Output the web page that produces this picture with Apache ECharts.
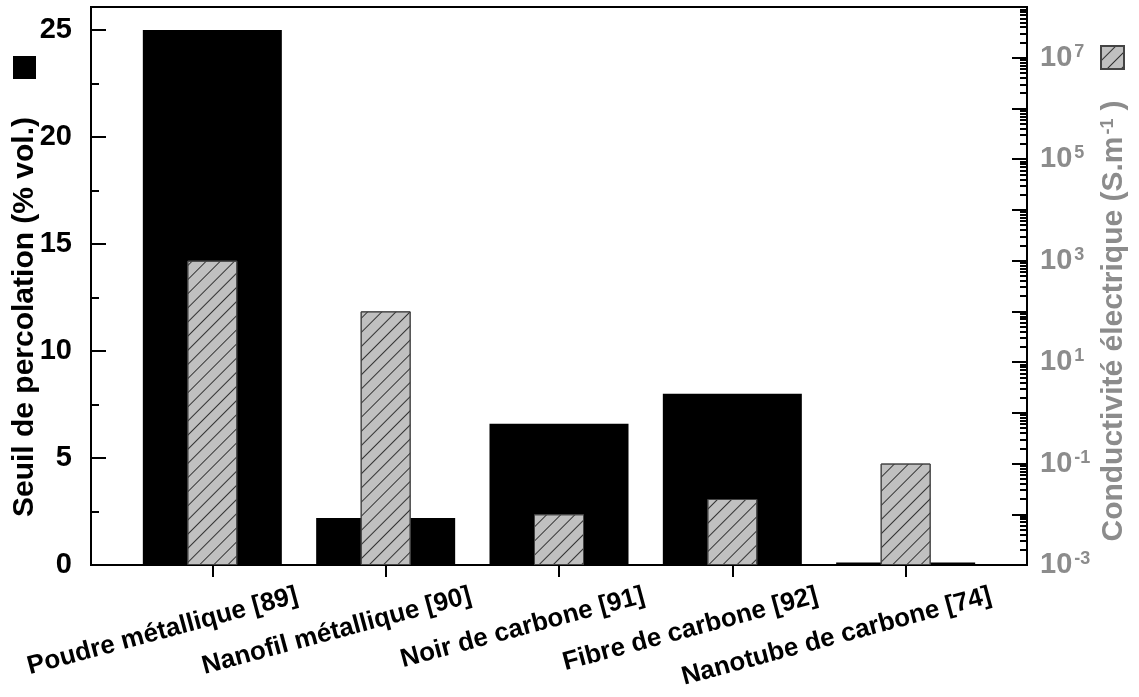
<!DOCTYPE html>
<html>
<head>
<meta charset="utf-8">
<script src="https://cdn.jsdelivr.net/npm/echarts@6/dist/echarts.min.js"></script>
<style>
  html, body { margin: 0; padding: 0; background: #fff; }
  #chart { width: 1139px; height: 697px; }
</style>
</head>
<body>
<div id="chart"></div>
<script>
// Fillers and their percolation threshold / electrical conductivity
const categories = [
  'Poudre métallique [89]',
  'Nanofil métallique [90]',
  'Noir de carbone [91]',
  'Fibre de carbone [92]',
  'Nanotube de carbone [74]'
];
const seuilPercolation = [25, 2.2, 6.6, 8, 0.12];        // % vol.
const conductivite = [1000, 100, 0.01, 0.02, 0.1];       // S.m-1

// Axis ticks
const leftMajorTicks = [0, 5, 10, 15, 20, 25];
const leftMinorTicks = [2.5, 7.5, 12.5, 17.5, 22.5];
const logExponents = [-3, -2, -1, 0, 1, 2, 3, 4, 5, 6, 7];
const logMinorMultipliers = [2, 3, 4, 5, 6, 7, 8, 9];

const FONT = '"Liberation Sans", Arial, sans-serif';
const GREY = '#8c8c8c';

// minor log ticks expressed as exponents on a linear helper axis
const logMinorPositions = [];
logExponents.forEach(e => logMinorMultipliers.forEach(m => {
  logMinorPositions.push(e + Math.log10(m));
}));

const catIndex = categories.map((c, i) => i);
const X_MIN = -0.7, X_MAX = 4.7;
const Y_MAX = 26.07;

const chart = echarts.init(document.getElementById('chart'), null, { renderer: 'canvas' });

const blackLine = { show: true, onZero: false, lineStyle: { color: '#000', width: 2 } };
const noLine = { show: false, onZero: false };

chart.setOption({
  animation: false,
  backgroundColor: '#fff',
  textStyle: { fontFamily: FONT },
  grid: {
    left: 91, right: 112, top: 7, bottom: 132,
    containLabel: false, outerBoundsMode: 'none',
    show: true, borderColor: '#000', borderWidth: 2, backgroundColor: 'transparent'
  },
  legend: [
    {
      data: ['Seuil de percolation'],
      left: 13, top: 56, itemWidth: 23, itemHeight: 23, icon: 'rect',
      formatter: () => '', selectedMode: false, padding: 0, itemGap: 0
    },
    {
      data: ['Conductivité électrique'],
      left: 1100, top: 45, itemWidth: 23, itemHeight: 23, icon: 'rect',
      formatter: () => '', selectedMode: false, padding: 0, itemGap: 0
    }
  ],
  xAxis: [
    {
      type: 'value', min: X_MIN, max: X_MAX, position: 'bottom',
      splitLine: { show: false },
      axisLine: blackLine,
      axisTick: { show: true, customValues: catIndex, length: 12, inside: false,
                  lineStyle: { color: '#000', width: 2 } },
      axisLabel: {
        customValues: catIndex,
        formatter: v => categories[Math.round(v)] || '',
        rotate: 15, align: 'right', verticalAlign: 'middle',
        padding: [0, -88, 0, 0], margin: 53,
        fontFamily: FONT, fontWeight: 'bold', fontSize: 26, color: '#000'
      }
    },
    {
      type: 'value', min: X_MIN, max: X_MAX, show: false, axisLine: noLine
    }
  ],
  yAxis: [
    {
      type: 'value', min: 0, max: Y_MAX, interval: 5, position: 'left',
      name: 'Seuil de percolation (% vol.)',
      nameLocation: 'middle', nameRotate: 90, nameGap: 51, nameMoveOverlap: false,
      nameTextStyle: { fontFamily: FONT, fontWeight: 'bold', fontSize: 30, color: '#000',
                       padding: [0, 62, 0, 0] },
      splitLine: { show: false },
      axisLine: blackLine,
      axisTick: { show: true, inside: true, length: 15, lineStyle: { color: '#000', width: 2 } },
      axisLabel: {
        margin: 19, fontFamily: FONT, fontWeight: 'bold', fontSize: 29, color: '#000',
        formatter: v => (leftMajorTicks.indexOf(v) >= 0 ? String(v) : '')
      }
    },
    {
      type: 'log', logBase: 10, min: 0.001, max: 1e8, interval: 1, startValue: 0.001,
      position: 'right',
      name: 'Conductivité électrique (S.m{sup|-1})',
      nameLocation: 'middle', nameRotate: 90, nameGap: 72, nameMoveOverlap: false,
      nameTextStyle: {
        fontFamily: FONT, fontWeight: 'bold', fontSize: 30, color: GREY,
        padding: [0, 70, 0, 0],
        rich: {
          sup: { fontFamily: FONT, fontWeight: 'bold', fontSize: 18, color: GREY,
                 verticalAlign: 'top', padding: [0, 8, 12, 2] }
        }
      },
      splitLine: { show: false },
      minorTick: { show: false },
      axisLine: blackLine,
      axisTick: { show: true, inside: true, length: 15, lineStyle: { color: '#000', width: 2 } },
      axisLabel: {
        margin: 13,
        formatter: v => {
          const e = Math.round(Math.log10(v));
          return (e % 2 !== 0) ? '10{sup|' + e + '}' : '';
        },
        fontFamily: FONT, fontWeight: 'bold', fontSize: 29, color: GREY,
        rich: {
          sup: { fontFamily: FONT, fontWeight: 'bold', fontSize: 18, color: GREY,
                 verticalAlign: 'top', padding: [0, 0, 12, 2] }
        }
      }
    },
    {
      // minor log ticks (2..9 per decade)
      type: 'value', min: -3, max: 8, position: 'right',
      splitLine: { show: false },
      axisLine: noLine,
      axisLabel: { show: false },
      axisTick: { show: true, inside: true, length: 7, customValues: logMinorPositions,
                  lineStyle: { color: '#000', width: 2 } }
    },
    {
      // minor linear ticks on the left axis
      type: 'value', min: 0, max: Y_MAX, position: 'left',
      splitLine: { show: false },
      axisLine: noLine,
      axisLabel: { show: false },
      axisTick: { show: true, inside: true, length: 8, customValues: leftMinorTicks,
                  lineStyle: { color: '#000', width: 2 } }
    }
  ],
  series: [
    {
      name: 'Seuil de percolation',
      type: 'bar', xAxisIndex: 0, yAxisIndex: 0, barWidth: 139,
      itemStyle: { color: '#000' },
      data: seuilPercolation.map((v, i) => [i, v]),
      z: 2
    },
    {
      name: 'Conductivité électrique',
      type: 'bar', xAxisIndex: 1, yAxisIndex: 1, barWidth: 50,
      itemStyle: {
        color: '#c0c0c0', borderColor: '#444', borderWidth: 1,
        decal: {
          symbol: 'rect', symbolSize: 1, color: '#333',
          dashArrayX: [1, 0], dashArrayY: [1, 8.5], rotation: -Math.PI / 4
        }
      },
      data: conductivite.map((v, i) => [i, v]),
      z: 3
    }
  ]
});
</script>
</body>
</html>
